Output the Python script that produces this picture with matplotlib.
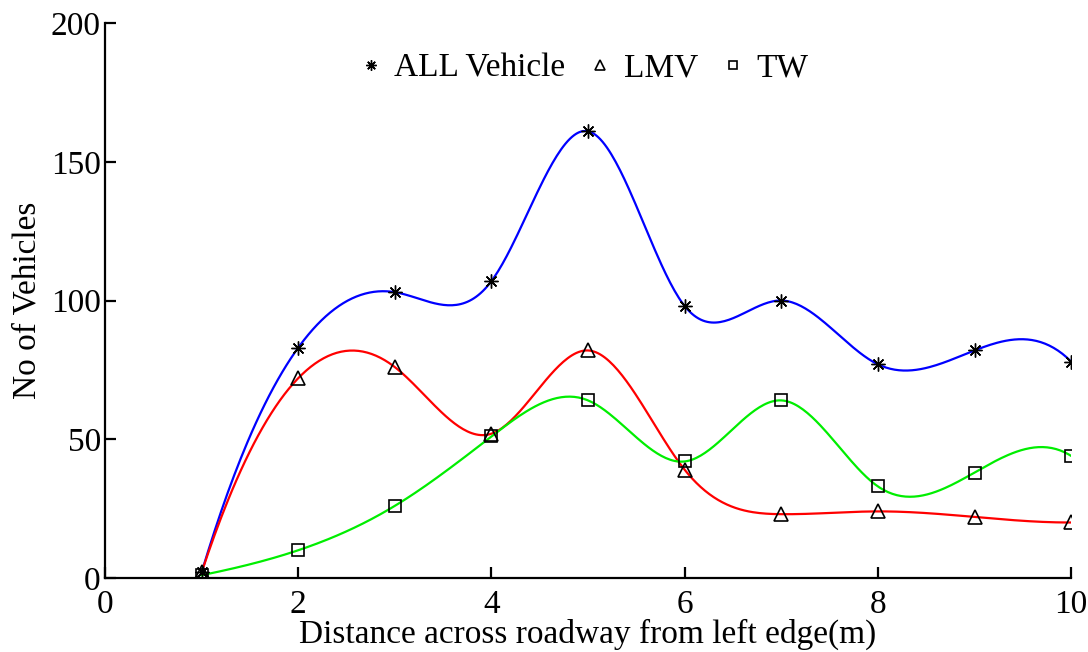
import numpy as np
import matplotlib.pyplot as plt

# distance across roadway (m)
dist = [1, 2, 3, 4, 5, 6, 7, 8, 9, 10]
all_veh = [2, 83, 103, 107, 161, 98, 100, 77, 82, 78]
lmv = [2, 72, 76, 52, 82, 39, 23, 24, 22, 20]
tw = [1, 10, 26, 51, 64, 42, 64, 33, 38, 44]


def spline_curve(x, y, n=400):
    # not-a-knot cubic spline, like matlab's spline()
    x = np.asarray(x, float)
    y = np.asarray(y, float)
    k = len(x)
    h = np.diff(x)
    A = np.zeros((k, k))
    b = np.zeros(k)
    for i in range(1, k - 1):
        A[i, i - 1] = h[i - 1]
        A[i, i] = 2 * (h[i - 1] + h[i])
        A[i, i + 1] = h[i]
        b[i] = 6 * ((y[i + 1] - y[i]) / h[i] - (y[i] - y[i - 1]) / h[i - 1])
    A[0, 0], A[0, 1], A[0, 2] = h[1], -(h[0] + h[1]), h[0]
    A[-1, -3], A[-1, -2], A[-1, -1] = h[-1], -(h[-2] + h[-1]), h[-2]
    M = np.linalg.solve(A, b)
    xs = np.linspace(x[0], x[-1], n)
    idx = np.clip(np.searchsorted(x, xs) - 1, 0, k - 2)
    x0, x1 = x[idx], x[idx + 1]
    hh = x1 - x0
    ys = (M[idx] * (x1 - xs) ** 3 / (6 * hh) + M[idx + 1] * (xs - x0) ** 3 / (6 * hh)
          + (y[idx] / hh - M[idx] * hh / 6) * (x1 - xs)
          + (y[idx + 1] / hh - M[idx + 1] * hh / 6) * (xs - x0))
    return xs, ys


plt.rcParams['font.family'] = ['Liberation Serif', 'DejaVu Serif']
plt.rcParams['font.size'] = 24

fig = plt.figure(figsize=(10.88, 6.52), dpi=100)
ax = fig.add_axes([0.0965, 0.1135, 0.888, 0.8512])

for yv, col in [(all_veh, 'blue'), (lmv, 'red'), (tw, '#00ee00')]:
    xs, ys = spline_curve(dist, yv)
    ax.plot(xs, ys, color=col, lw=1.6)

ax.plot(dist, all_veh, ls='none', marker=(8, 2, 0), ms=10, mec='black', mew=1.0,
        label='ALL Vehicle')
ax.plot(dist, lmv, ls='none', marker='^', ms=10, mfc='none', mec='black', mew=1.2,
        label='LMV')
ax.plot(dist, tw, ls='none', marker='s', ms=8, mfc='none', mec='black', mew=1.2,
        label='TW')

ax.set_xlim(0, 10)
ax.set_ylim(0, 200)
ax.set_xticks([0, 2, 4, 6, 8, 10])
ax.set_yticks([0, 50, 100, 150, 200])
ax.spines['top'].set_visible(False)
ax.spines['right'].set_visible(False)
ax.spines['left'].set_linewidth(1.6)
ax.spines['bottom'].set_linewidth(1.6)
ax.tick_params(direction='in', length=8, width=1.6, labelsize=24, pad=3)
ax.tick_params(axis='x', pad=8)
ax.set_xlabel('Distance across roadway from left edge(m)', fontsize=24, labelpad=-1)
ax.set_ylabel('No of Vehicles', fontsize=24, labelpad=6)

ax.legend(loc='center', bbox_to_anchor=(0.493, 0.919), ncol=3, frameon=False,
          handlelength=1.0, handletextpad=0.2, columnspacing=0.55, markerscale=0.75,
          fontsize=24, borderpad=0)

fig.savefig('out.png', dpi=100)
